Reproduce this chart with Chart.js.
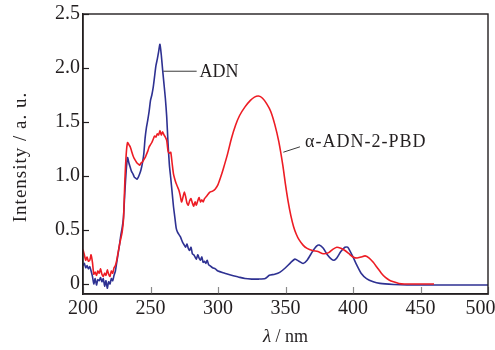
<!DOCTYPE html>
<html>
<head>
<meta charset="utf-8">
<script src="https://cdn.jsdelivr.net/npm/chart.js@4.4.1/dist/chart.umd.min.js"></script>
<style>
html,body{margin:0;padding:0;background:#fff;}
#wrap{width:495px;height:350px;position:relative;}
</style>
</head>
<body>
<div id="wrap"><canvas id="c" width="495" height="350"></canvas></div>
<script>
// ---- data ----
const wavelengthADN = [200,201,202,203,204,205,206,207,208,209,210,211,212,213,214,215,216,217,218,219,220,221,222,223,224,225,226,227,228,229,230,231,232,233,234,235,236,237,238,239,240,241,242,243,244,245,246,247,248,249,250,251,252,253,254,255,256,257,258,259,260,261,262,263,264,265,266,267,268,269,270,272,273,274,275,276,277,278,279,280,281,282,283,284,285,286,287,288,289,290,291,292,293,294,296,298,300,305,310,315,320,325,330,335,338,342,346,350,354,357,360,363,366,370,373,375,378,381,384,386,388,391,394,396,398,400,403,406,410,415,420,430,440,460,480,500];
const intensityADN = [0.17,0.19,0.15,0.17,0.14,0.16,0.12,0.07,0.0,0.05,-0.01,0.04,0.03,0.06,0.02,0.05,-0.02,0.03,-0.04,0.02,0.0,0.05,0.03,0.08,0.12,0.2,0.28,0.36,0.45,0.52,0.62,0.85,1.05,1.17,1.12,1.08,1.04,1.02,0.99,0.98,0.97,0.99,1.02,1.06,1.12,1.2,1.35,1.45,1.52,1.6,1.7,1.75,1.82,1.92,2.02,2.08,2.15,2.22,2.12,1.98,1.85,1.72,1.55,1.3,1.1,0.98,0.85,0.72,0.62,0.52,0.48,0.44,0.41,0.38,0.36,0.34,0.37,0.33,0.31,0.34,0.28,0.27,0.25,0.23,0.27,0.24,0.22,0.25,0.2,0.21,0.19,0.22,0.18,0.17,0.15,0.14,0.12,0.1,0.08,0.065,0.05,0.045,0.045,0.05,0.08,0.09,0.11,0.15,0.2,0.23,0.21,0.19,0.22,0.3,0.35,0.36,0.33,0.27,0.23,0.22,0.24,0.3,0.34,0.34,0.3,0.25,0.17,0.1,0.05,0.02,0.005,-0.005,-0.01,-0.01,-0.01,-0.01];

const wavelengthPBD = [200,201,202,203,204,205,206,207,208,209,210,211,212,213,214,215,216,217,218,219,220,221,222,223,224,225,226,227,228,229,230,231,232,233,234,235,236,237,238,239,240,241,242,243,244,245,246,247,248,249,250,251,252,253,254,255,256,257,258,259,260,261,262,263,264,265,266,267,268,269,270,271,272,273,274,275,276,277,278,279,280,281,282,283,284,285,286,287,288,289,290,292,294,296,298,300,302,304,307,310,313,316,320,324,327,330,333,336,339,342,345,348,350,352,354,356,358,360,363,366,370,374,378,382,385,388,391,394,397,400,403,406,409,412,415,418,421,424,427,430,434,438,450,460];
const intensityPBD = [0.32,0.27,0.22,0.25,0.21,0.22,0.27,0.2,0.09,0.11,0.08,0.12,0.1,0.14,0.09,0.07,0.1,0.08,0.13,0.09,0.07,0.12,0.1,0.15,0.17,0.22,0.29,0.36,0.42,0.48,0.6,0.95,1.2,1.31,1.29,1.27,1.23,1.19,1.16,1.14,1.12,1.11,1.1,1.12,1.13,1.15,1.17,1.2,1.23,1.27,1.29,1.31,1.34,1.37,1.36,1.39,1.38,1.42,1.38,1.41,1.38,1.36,1.33,1.23,1.21,1.22,1.12,1.02,0.97,0.93,0.9,0.87,0.82,0.76,0.8,0.85,0.81,0.75,0.73,0.77,0.79,0.75,0.72,0.76,0.73,0.77,0.8,0.76,0.78,0.76,0.79,0.82,0.85,0.86,0.88,0.92,0.99,1.07,1.2,1.35,1.47,1.56,1.64,1.7,1.73,1.74,1.72,1.67,1.6,1.48,1.32,1.1,0.92,0.76,0.63,0.53,0.46,0.41,0.36,0.33,0.31,0.3,0.28,0.29,0.32,0.34,0.33,0.31,0.28,0.25,0.24,0.25,0.26,0.24,0.2,0.15,0.1,0.06,0.035,0.02,0.005,0.0,0.0,0.0];

const xTickValues = [200,250,300,350,400,450,500];
const xTickLabels = ['200','250','300','350','400','450','500\u00a0\u00a0\u00a0'];
const yTickValues = [0,0.5,1.0,1.5,2.0,2.5];
const yTickLabels = ['0','0.5','1.0','1.5','2.0','2.5'];

const seriesNames = ['ADN','α-ADN-2-PBD'];
// label anchors in data units: [curve point x, y], [label start x, y]
const labelLineFrom = [[259.5,1.97],[348.4,1.22]];
const labelLineTo = [[284.2,1.97],[360.7,1.27]];
const labelTextAt = [[286.3,1.96],[364.5,1.31]];

const xTitleItalic = 'λ';
const xTitleRest = ' / nm';
const yTitle = 'Intensity / a. u.';

// ---- chart ----
const BLUE = '#2e3192';
const RED = '#ed1c24';
const SERIF = '"Liberation Serif", "DejaVu Serif", serif';

function toPoints(xs, ys){ return xs.map((x,i)=>({x:x,y:ys[i]})); }

const framePlugin = {
  id:'frame',
  afterDatasetsDraw(chart){
    const {ctx, chartArea:a, scales} = chart;
    const xs = scales.x, ys = scales.y;
    ctx.save();
    // inner ticks
    ctx.lineWidth = 1.2;
    ctx.strokeStyle = '#8a8a8a';
    xTickValues.forEach(v=>{
      const px = Math.round(xs.getPixelForValue(v))+0.5;
      ctx.beginPath(); ctx.moveTo(px, a.bottom); ctx.lineTo(px, a.bottom-7); ctx.stroke();
    });
    ctx.strokeStyle = '#231f20';
    yTickValues.forEach(v=>{
      const py = Math.round(ys.getPixelForValue(v))+0.5;
      ctx.beginPath(); ctx.moveTo(a.left, py); ctx.lineTo(a.left+6, py); ctx.stroke();
    });
    // frame
    ctx.lineWidth = 1.4;
    ctx.strokeStyle = '#231f20';
    ctx.strokeRect(a.left, a.top, a.right-a.left, a.bottom-a.top);
    // series annotations
    ctx.font = '18px ' + SERIF;
    ctx.fillStyle = '#231f20';
    ctx.textBaseline = 'middle';
    ctx.textAlign = 'left';
    ctx.lineWidth = 1;
    ctx.strokeStyle = '#3a3a3a';
    seriesNames.forEach((name,i)=>{
      ctx.beginPath();
      ctx.moveTo(xs.getPixelForValue(labelLineFrom[i][0]), ys.getPixelForValue(labelLineFrom[i][1]));
      ctx.lineTo(xs.getPixelForValue(labelLineTo[i][0]), ys.getPixelForValue(labelLineTo[i][1]));
      ctx.stroke();
      ctx.letterSpacing = i === 1 ? '1px' : '0px';
      ctx.fillText(name, xs.getPixelForValue(labelTextAt[i][0]), ys.getPixelForValue(labelTextAt[i][1]));
    });
    ctx.letterSpacing = '0px';
    // axis titles
    ctx.font = 'italic 19px ' + SERIF;
    const w1 = ctx.measureText(xTitleItalic).width;
    ctx.font = '18px ' + SERIF;
    const w2 = ctx.measureText(xTitleRest).width;
    const cx = (a.left + a.right)/2;
    let sx = cx - (w1+w2)/2;
    ctx.textAlign='left';
    ctx.textBaseline='middle';
    ctx.font = 'italic 19px ' + SERIF;
    ctx.fillText(xTitleItalic, sx, 337);
    ctx.font = '18px ' + SERIF;
    ctx.fillText(xTitleRest, sx+w1, 337);
    ctx.save();
    ctx.translate(21, (a.top+a.bottom)/2+3);
    ctx.rotate(-Math.PI/2);
    ctx.textAlign='center';
    ctx.font = '19px ' + SERIF;
    ctx.letterSpacing = '1px';
    ctx.fillText(yTitle, 0, 0);
    ctx.restore();
    ctx.restore();
  }
};

new Chart(document.getElementById('c'), {
  type:'line',
  data:{
    datasets:[
      {label:'α-ADN-2-PBD', data:toPoints(wavelengthPBD,intensityPBD), borderColor:RED, borderWidth:1.6, pointRadius:0, tension:0.2, fill:false},
      {label:'ADN', data:toPoints(wavelengthADN,intensityADN), borderColor:BLUE, borderWidth:1.6, pointRadius:0, tension:0.2, fill:false}
    ]
  },
  options:{
    responsive:false,
    animation:false,
    devicePixelRatio:1,
    layout:{padding:{left:0,right:7,top:14,bottom:0}},
    plugins:{legend:{display:false}, tooltip:{enabled:false}},
    scales:{
      x:{
        type:'linear', min:200, max:500,
        afterBuildTicks(s){ s.ticks = xTickValues.map(v=>({value:v})); },
        afterFit(s){ s.height = 56; s.paddingLeft = 0; s.paddingRight = 0; },
        grid:{display:false, drawTicks:false},
        border:{display:true, color:'#231f20', width:1.4},
        ticks:{font:{family:SERIF, size:20}, color:'#231f20', padding:3, maxRotation:0,
               callback:(v)=>{ const i = xTickValues.indexOf(v); return i>=0 ? xTickLabels[i] : ''; }}
      },
      y:{
        type:'linear', min:-0.093, max:2.5,
        afterBuildTicks(s){ s.ticks = yTickValues.map(v=>({value:v})); },
        afterFit(s){ s.width = 83; s.paddingTop = 0; s.paddingBottom = 0; },
        grid:{display:false, drawTicks:false},
        border:{display:true, color:'#231f20', width:1.4},
        ticks:{font:{family:SERIF, size:20}, color:'#231f20', padding:3,
               callback:(v)=>{ const i = yTickValues.indexOf(v); return i>=0 ? yTickLabels[i] : ''; }}
      }
    }
  },
  plugins:[framePlugin]
});
</script>
</body>
</html>
